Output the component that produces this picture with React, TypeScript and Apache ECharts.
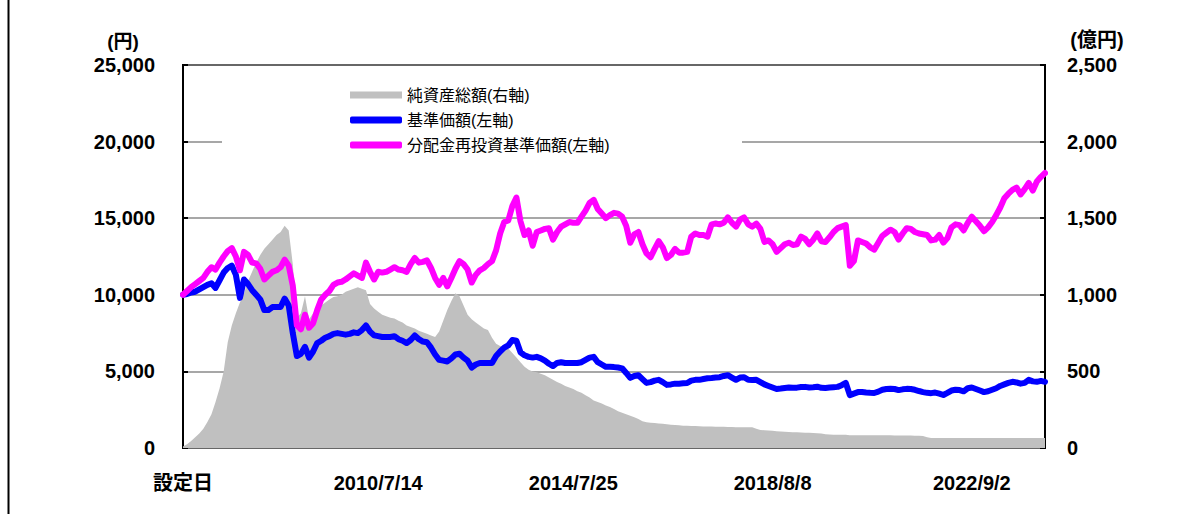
import React, { useEffect, useRef } from "react";
import * as echarts from "echarts";

// Monthly categories starting at the fund's inception (2006/7) through 2024/3
const startYear = 2006;
const startMonth = 7;
const monthCount = 213;
const categories: string[] = [];
for (let i = 0; i < monthCount; i++) {
  const m = startMonth - 1 + i;
  categories.push(`${startYear + Math.floor(m / 12)}/${(m % 12) + 1}`);
}

// x-axis tick labels (category -> shown text)
const tickCategories = ["2006/7", "2010/7", "2014/7", "2018/8", "2022/9"];
const tickLabels = ["設定日", "2010/7/14", "2014/7/25", "2018/8/8", "2022/9/2"];

// 分配金再投資基準価額 (円)
const reinvestNav = [
  10000, 10250, 10500, 10700, 10900, 11100, 11500, 11800, 11650, 12100,
  12500, 12850, 13050, 12500, 11600, 12800, 12600, 12100, 12050, 11700,
  11000, 11250, 11500, 11600, 11800, 12300, 11900, 10600, 8000, 7750,
  8700, 7850, 8150, 9000, 9700, 10000, 10250, 10650, 10800, 10850,
  11000, 11200, 11400, 11250, 11100, 12100, 11500, 11000, 11500, 11450,
  11500, 11650, 11800, 11650, 11600, 11500, 12000, 12400, 12100, 12150,
  12250, 11750, 11100, 10650, 11100, 10550, 11100, 11700, 12200, 12000,
  11650, 10800, 11300, 11600, 11750, 12000, 12200, 12900, 14000, 14750,
  14850, 15800, 16350, 14800, 13900, 14200, 13200, 14100, 14200, 14300,
  14350, 13600, 14100, 14450, 14600, 14750, 14700, 14700, 15100, 15500,
  16000, 16200, 15600, 15300, 15000, 15200, 15350, 15300, 15100, 14500,
  13400, 13950, 14100, 13300, 12700, 12450, 13000, 13500, 13100, 12400,
  12600, 13000, 12750, 12750, 12800, 13800, 14000, 13900, 13900, 13800,
  14600, 14650, 14600, 14700, 15050, 14700, 14450, 14900, 15050, 14600,
  14450, 14650, 14300, 13450, 13550, 13300, 12800, 13050, 13300, 13400,
  13250, 13300, 13800, 13650, 13300, 13600, 14000, 13500, 13450, 13750,
  14100, 14350, 14450, 14550, 11900, 12200, 13550, 13450, 13350, 13100,
  12950, 13400, 13850, 14050, 14250, 14100, 13600, 14000, 14350, 14300,
  14100, 14000, 13950, 13900, 13550, 13600, 13900, 13400, 13700, 14400,
  14600, 14550, 14200, 14700, 15100, 14800, 14500, 14150, 14400, 14750,
  15200, 15700, 16300, 16600, 16850, 17000, 16550, 16900, 17300, 16800,
  17400, 17700, 17950,
];

// 基準価額 (円)
const nav = [
  10000, 10050, 10150, 10200, 10350, 10500, 10650, 10750, 10450, 10950,
  11450, 11750, 11900, 11300, 9800, 11000, 10700, 10300, 10000, 9700,
  9000, 9000, 9200, 9200, 9200, 9750, 9300, 7500, 6000, 6150,
  6600, 5900, 6300, 6850, 7000, 7200, 7300, 7450, 7500, 7450,
  7400, 7450, 7550, 7500, 7700, 8000, 7600, 7350, 7300, 7250,
  7250, 7250, 7300, 7100, 7000, 6850, 7050, 7350, 7100, 6950,
  6900, 6550, 6100, 5750, 5700, 5650, 5850, 6100, 6150, 5900,
  5700, 5250, 5450, 5550, 5550, 5550, 5550, 6000, 6300, 6550,
  6700, 7050, 7000, 6250, 6050, 5950, 5900, 5950, 5850, 5700,
  5500, 5350, 5550, 5600, 5550, 5550, 5550, 5550, 5600, 5750,
  5900, 5950, 5600, 5450, 5300, 5300, 5280, 5250, 5200, 4900,
  4580, 4700, 4750, 4500, 4250, 4300, 4400, 4450, 4300, 4120,
  4150, 4200, 4200, 4220, 4240, 4400, 4450, 4450, 4500, 4550,
  4570, 4600, 4620, 4700, 4750, 4600, 4450, 4600, 4620, 4450,
  4440, 4450, 4300, 4150, 4050, 3950, 3850, 3880, 3920, 3950,
  3930, 3940, 3980, 3990, 3950, 3970, 4000, 3930, 3920, 3950,
  3970, 3990, 4100, 4250, 3450, 3550, 3650, 3650, 3620, 3600,
  3590, 3680, 3800, 3850, 3870, 3850, 3780, 3830, 3860, 3850,
  3800, 3720, 3650, 3600, 3580, 3620, 3550, 3460, 3600, 3750,
  3800, 3780, 3700, 3900, 3950, 3850, 3750, 3650, 3700, 3800,
  3900, 4050, 4150, 4250, 4320, 4280, 4200, 4250, 4450, 4350,
  4320, 4380, 4320,
];

// 純資産総額 (億円)
const netAssets = [
  10, 25, 45, 70, 95, 125, 170, 220, 300, 390,
  500, 690, 800, 880, 950, 1010, 1090, 1150, 1210, 1260,
  1300, 1330, 1360, 1390, 1410, 1450, 1420, 1200, 850, 880,
  990, 840, 880, 910, 930, 950, 970, 985, 990, 1000,
  1020, 1030, 1040, 1050, 1040, 1030, 940, 910, 890, 870,
  860, 850, 845, 830, 820, 800, 790, 780, 765, 755,
  745, 735, 725, 760, 830, 900, 960, 1010, 990, 930,
  870, 840, 820, 800, 780, 770, 720, 680, 665, 660,
  650, 620, 590, 560, 530, 510, 500, 495, 485, 475,
  460, 445, 430, 420, 405, 395, 385, 370, 360, 345,
  330, 310, 300, 290, 278, 268, 255, 240, 230, 220,
  210, 200, 190, 175, 168, 165, 163, 160, 158, 155,
  152, 150, 148, 146, 145, 144, 143, 142, 141, 140,
  140, 139, 138, 138, 137, 137, 136, 136, 135, 135,
  135, 125, 118, 116, 114, 112, 110, 108, 106, 104,
  103, 102, 101, 100, 99, 98, 97, 95, 90, 88,
  86, 86, 86, 86, 84, 84, 84, 84, 84, 84,
  83, 83, 83, 83, 83, 82, 82, 82, 82, 82,
  80, 80, 78, 70, 66, 65, 65, 65, 65, 65,
  65, 65, 65, 65, 65, 65, 65, 65, 65, 65,
  65, 65, 65, 65, 65, 65, 65, 65, 65, 65,
  65, 65, 65,
];

const seriesNames = ["純資産総額(右軸)", "基準価額(左軸)", "分配金再投資基準価額(左軸)"];

const FONT = "'Liberation Sans', Arial, 'Noto Sans CJK JP', sans-serif";

export default function App() {
  const ref = useRef<HTMLDivElement>(null);

  useEffect(() => {
    document.body.style.margin = "0";
    if (!ref.current) return;
    const chart = echarts.init(ref.current, null, { renderer: "svg" });
    const isTick = (idx: number) => tickCategories.includes(categories[idx]);
    const tickFont = {
      fontFamily: FONT,
      fontSize: 20,
      fontWeight: "bold" as const,
      color: "#000",
    };

    chart.setOption({
      animation: false,
      backgroundColor: "#fff",
      grid: {
        left: 183,
        right: 144,
        top: 65,
        bottom: 66,
        show: true,
        borderColor: "#000",
        borderWidth: 2,
        backgroundColor: "transparent",
      },
      legend: {
        orient: "vertical",
        left: 350,
        top: 87,
        padding: 0,
        itemWidth: 52,
        itemHeight: 7,
        itemGap: 9,
        z: 10,
        textStyle: { fontFamily: FONT, fontSize: 16, color: "#000", lineHeight: 16 },
        data: [
          { name: seriesNames[0], icon: "rect" },
          { name: seriesNames[1], icon: "roundRect" },
          { name: seriesNames[2], icon: "roundRect" },
        ],
      },
      xAxis: {
        type: "category",
        data: categories,
        boundaryGap: false,
        axisLine: { show: false },
        axisTick: {
          show: true,
          inside: true,
          length: 6,
          interval: (idx: number) => isTick(idx),
          lineStyle: { color: "#000", width: 2 },
        },
        axisLabel: {
          interval: (idx: number) => isTick(idx),
          formatter: (v: string) => {
            const k = tickCategories.indexOf(v);
            return k >= 0 ? tickLabels[k] : "";
          },
          margin: 25,
          ...tickFont,
        },
        splitLine: { show: false },
      },
      yAxis: [
        {
          type: "value",
          min: 0,
          max: 25000,
          interval: 5000,
          axisLine: { show: false },
          axisTick: { show: true, inside: true, length: 5, lineStyle: { color: "#000", width: 2 } },
          axisLabel: {
            margin: 28,
            ...tickFont,
            formatter: (v: number) => v.toLocaleString("en-US"),
          },
          splitLine: { show: true, lineStyle: { color: "#8a8a8a", width: 1.5 } },
        },
        {
          type: "value",
          min: 0,
          max: 2500,
          interval: 500,
          axisLine: { show: false },
          axisTick: { show: true, inside: true, length: 5, lineStyle: { color: "#000", width: 2 } },
          axisLabel: {
            margin: 22,
            ...tickFont,
            formatter: (v: number) => v.toLocaleString("en-US"),
          },
          splitLine: { show: false },
        },
      ],
      graphic: [
        { type: "rect", z: 3, shape: { x: 222, y: 82, width: 520, height: 76 }, style: { fill: "#fff" } },
        {
          type: "text",
          x: 123,
          y: 41,
          style: { text: "(円)", fontFamily: FONT, fontSize: 19, fontWeight: "bold", fill: "#000", align: "center", verticalAlign: "middle" },
        },
        {
          type: "text",
          x: 1097,
          y: 40,
          style: { text: "(億円)", fontFamily: FONT, fontSize: 20, fontWeight: "bold", fill: "#000", align: "center", verticalAlign: "middle" },
        },
        { type: "line", shape: { x1: 8.5, y1: 0, x2: 8.5, y2: 514 }, style: { stroke: "#000", lineWidth: 2 } },
      ],
      series: [
        {
          name: seriesNames[0],
          type: "line",
          yAxisIndex: 1,
          data: netAssets,
          symbol: "none",
          color: "#c0c0c0",
          lineStyle: { width: 0, color: "#c0c0c0" },
          areaStyle: { color: "#c0c0c0", opacity: 1 },
          z: 1,
        },
        {
          name: seriesNames[1],
          type: "line",
          yAxisIndex: 0,
          data: nav,
          symbol: "none",
          color: "#0000ff",
          lineStyle: { width: 6, color: "#0000ff", join: "round", cap: "round" },
          z: 5,
        },
        {
          name: seriesNames[2],
          type: "line",
          yAxisIndex: 0,
          data: reinvestNav,
          symbol: "none",
          color: "#ff00ff",
          lineStyle: { width: 6, color: "#ff00ff", join: "round", cap: "round" },
          z: 6,
        },
      ],
    });

    return () => chart.dispose();
  }, []);

  return <div ref={ref} style={{ width: 1189, height: 514 }} />;
}
